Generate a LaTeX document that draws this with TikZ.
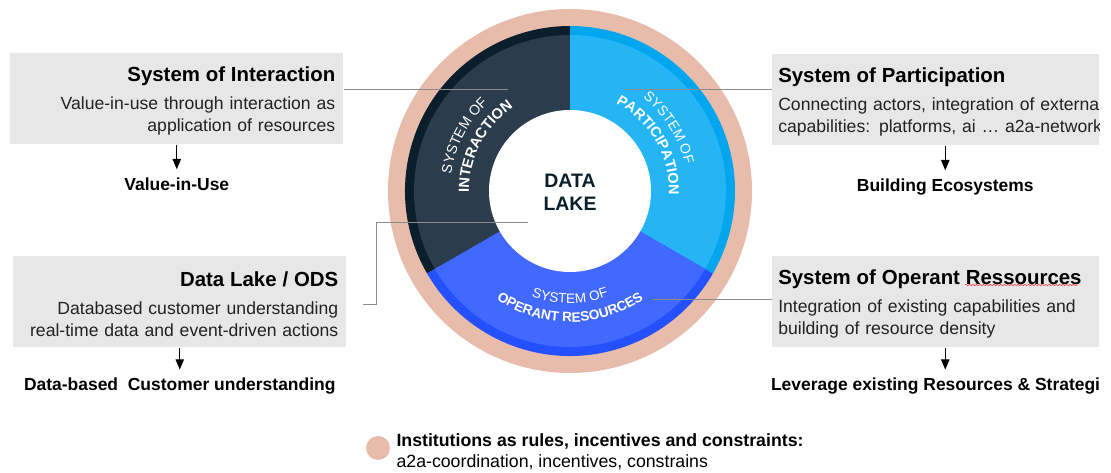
\documentclass[tikz,border=0pt]{standalone}
\usepackage{fontspec}
\setmainfont{Liberation Sans}
\usetikzlibrary{arrows, positioning, decorations.text, decorations.pathmorphing}

\definecolor{ringpink}{HTML}{E8BCAA}
\definecolor{interfill}{HTML}{2B3C4C}
\definecolor{interedge}{HTML}{0B1E2C}
\definecolor{partfill}{HTML}{25B5F5}
\definecolor{partedge}{HTML}{01A6EF}
\definecolor{operfill}{HTML}{4169FF}
\definecolor{operedge}{HTML}{2550FF}
\definecolor{panelgray}{HTML}{E7E7E7}
\definecolor{linkgray}{HTML}{8C8C8C}
\definecolor{bodytext}{HTML}{222222}

\newcommand{\boxtitle}[1]{{\fontsize{15.3}{16.5}\selectfont\bfseries\color{black}\rule{0pt}{14.5pt}#1}\\[4.5pt]}

\begin{document}
\begin{tikzpicture}[x=0.75pt, y=-0.75pt, node distance=18.5pt]
\tikzset{
>=triangle 45,
  panel/.style={
    rectangle,
    fill=panelgray,
    minimum height=68.25pt,
    inner xsep=6pt,
    text width=237.75pt,
    text=bodytext,
    font=\fontsize{13.2}{16.5}\selectfont,
    anchor=north west},
  outcome/.style={
    font=\fontsize{13.1}{15}\selectfont\bfseries,
    inner xsep=0pt, inner ysep=6pt},
  link/.style={draw=linkgray, line width=0.75pt},
  line/.style={draw, line width=0.75pt, ->},
  ringtext/.style={decorate,
    decoration={text along path, text align=center, text color=white, text={#1}}},
}
\useasboundingbox (0,0) rectangle (1111,473);

\begin{scope}
\clip (0,0) rectangle (1099,473);

% the ring
\begin{scope}[shift={(570,191)}]
\fill[ringpink] (0,0) circle (182);
\fill[interedge] (0,0) -- (150:165) arc[start angle=150, end angle=270, radius=165] -- cycle;
\fill[interfill] (0,0) -- (150:156) arc[start angle=150, end angle=270, radius=156] -- cycle;
\fill[partedge] (0,0) -- (270:165) arc[start angle=270, end angle=390, radius=165] -- cycle;
\fill[partfill] (0,0) -- (270:156) arc[start angle=270, end angle=390, radius=156] -- cycle;
\fill[operedge] (0,0) -- (30:165) arc[start angle=30, end angle=150, radius=165] -- cycle;
\fill[operfill] (0,0) -- (30:156) arc[start angle=30, end angle=150, radius=156] -- cycle;
\fill[white] (0,0) circle (81);

\node[font=\fontsize{14.6}{17.5}\selectfont\bfseries, text=interedge, align=center] (lake) at (0,1) {DATA\\LAKE};

\path[ringtext={|\fontsize{10.6}{11}\selectfont|SYSTEM OF}] (172:120) arc[start angle=172, end angle=243, radius=120];
\path[ringtext={|\fontsize{11}{11}\selectfont\bfseries|INTERACTION}] (172:101) arc[start angle=172, end angle=243, radius=101];
\path[ringtext={|\fontsize{10.4}{11}\selectfont|SYSTEM OF}] (293:118) arc[start angle=293, end angle=362, radius=118];
\path[ringtext={|\fontsize{10.8}{11}\selectfont\bfseries|PARTICIPATION}] (292:99) arc[start angle=292, end angle=368, radius=99];
\path[ringtext={|\fontsize{10.2}{11}\selectfont|SYSTEM OF}] (130:112) arc[start angle=130, end angle=50, radius=112];
\path[ringtext={|\fontsize{10.2}{11}\selectfont\bfseries|OPERANT RESOURCES}] (136:131) arc[start angle=136, end angle=44, radius=131];
\end{scope}

% the four panels
\node[panel, align=right] (interaction) at (10,53) {\boxtitle{System of Interaction}Value-in-use through interaction as\\application of resources};
\node[panel, align=right] (datalake) at (13,256) {\boxtitle{Data Lake / ODS}Databased customer understanding\\real-time data and event-driven actions};
\node[panel, align=left, inner xsep=4.5pt, text width=250.5pt] (participation) at (772,54) {\boxtitle{System of Participation}Connecting actors, integration of external\\capabilities: platforms, ai … a2a-networks};
\node[panel, align=left, inner xsep=4.5pt, text width=250.5pt] (operant) at (772,256) {\boxtitle{System of Operant Ressources}Integration of existing capabilities and\\building of resource density};
\draw[red!80, line width=0.4pt, decorate, decoration={snake, amplitude=0.5pt, segment length=2.6pt}] (965,285) -- (1078,285);

\node[outcome, below=of interaction] (valueuse) {Value-in-Use};
\node[outcome, below=16.5pt of datalake] (customer) {Data-based\ \ Customer understanding};
\node[outcome, below=of participation] (ecosystems) {Building Ecosystems};
\node[outcome, below=16.5pt of operant] (leverage) {Leverage existing Resources \& Strategies};

\draw[line] (interaction) -- (valueuse);
\draw[line] (datalake) -- (customer);
\draw[line] (participation) -- (ecosystems);
\draw[line] (operant) -- (leverage);

% leader lines into the ring
\coordinate (interpt) at (508,90);
\coordinate (partpt) at (625,90);
\coordinate (operpt) at (652,300);
\coordinate (lakept) at (528,223);
\coordinate (lakeend) at (363,305);
\draw[link] (interpt) -- (interpt -| interaction.east);
\draw[link] (partpt) -- (partpt -| participation.west);
\draw[link] (operpt) -- (operpt -| operant.west);
\draw[link] (lakept) -- ++(-152,0) |- (lakeend);

% legend
\node[circle, fill=ringpink, minimum size=18pt, inner sep=0pt] (dot) at (378,448) {};
\node[right=4.5pt of dot, yshift=-3pt, align=left, inner sep=0pt, font=\fontsize{13.3}{15.8}\selectfont] (institutions) {\textbf{Institutions as rules, incentives and constraints:}\\a2a-coordination, incentives, constrains};
\end{scope}

\end{tikzpicture}
\end{document}
